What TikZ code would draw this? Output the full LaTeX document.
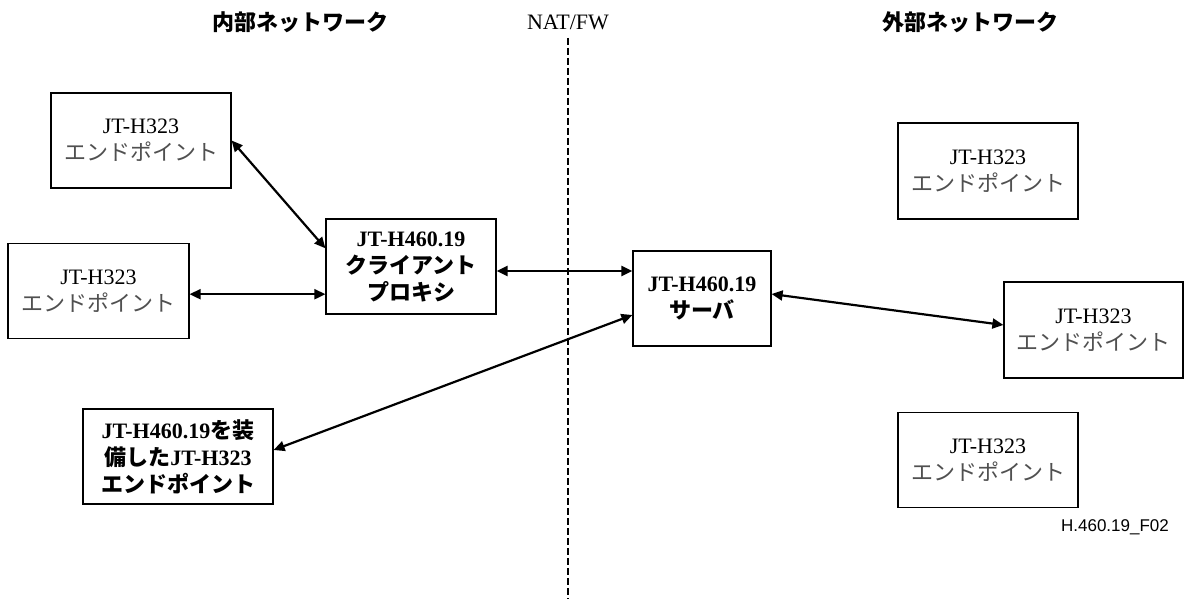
\documentclass[tikz,border=0pt]{standalone}
\usepackage{fontspec}
\setmainfont{Liberation Serif}
\setsansfont{Liberation Sans}
\newfontfamily\jp{Noto Sans CJK JP}
\usepackage{tikz}
\usetikzlibrary{arrows.meta, positioning}
\definecolor{jpgray}{HTML}{505050}
\newcommand{\eptext}{JT-H323\\{\jp\color{jpgray}エンドポイント}}

\begin{document}
\begin{tikzpicture}[
    x=0.5pt, y=-0.5pt,
    ep/.style={rectangle, draw, line width=0.6pt, minimum width=90pt, minimum height=47.5pt,
               align=center, inner sep=2pt, font=\fontsize{11}{13.5}\selectfont},
    gw/.style={ep, font=\fontsize{11}{13.5}\selectfont\bfseries},
    ttl/.style={font=\fontsize{11}{13}\selectfont\bfseries},
    link/.style={{Triangle[length=5.5pt,width=5pt]}-{Triangle[length=5.5pt,width=5pt]}, line width=1.1pt},
    fw/.style={dashed, dash pattern=on 3.3pt off 1.7pt, line width=1pt}
]
\useasboundingbox (0,0) rectangle (1184,599);

% headings
\node[ttl] (inner) at (300,22) {\jp 内部ネットワーク};
\node[font=\fontsize{11}{13}\selectfont] (natfw) at (568,22) {NAT/FW};
\node[ttl] (outer) at (970,22) {\jp 外部ネットワーク};
\coordinate (fwtop) at (568,38);
\coordinate (fwbot) at (568,599);
\draw[fw] (fwtop) -- (fwbot);

% inner side
\node[ep] (tl) at (141,140.5) {\eptext};
\node[ep, minimum width=90.5pt, below=27pt of tl, xshift=-21.25pt] (ml) {\eptext};
\node[gw, minimum width=85pt] (client) at (411,266.5) {JT-H460.19\\{\jp クライアント}\\{\jp プロキシ}};
\node[gw, minimum width=95pt] (bl) at (178,456.5) {JT-H460.19{\jp を装}\\{\jp 備した}JT-H323\\{\jp エンドポイント}};

% outer side
\node[gw, minimum width=69pt] (server) at (702,298.5) {JT-H460.19\\{\jp サーバ}};
\node[ep, minimum height=48pt] (rt) at (988,171) {\eptext};
\node[ep, minimum width=89.5pt, minimum height=48pt] (rm) at (1093.5,330) {\eptext};
\node[ep, below=96pt of rt] (rb) {\eptext};
\node[font=\fontsize{8.5}{10}\selectfont\sffamily] (fig) at (1115,527) {H.460.19\_F02};

\draw[link] (tl.east) -- (client.168);
\draw[link] ([yshift=-1.75pt]ml.east) -- ([yshift=-1.75pt]ml.east -| client.west);
\draw[link] ([yshift=-2.25pt]client.east) -- ([yshift=-2.25pt]client.east -| server.west);
\draw[link] ([yshift=3.25pt]bl.east) -- ([yshift=-8.25pt]server.west);
\draw[link] ([yshift=2.25pt]server.east) -- ([yshift=2.5pt]rm.west);
\end{tikzpicture}
\end{document}
